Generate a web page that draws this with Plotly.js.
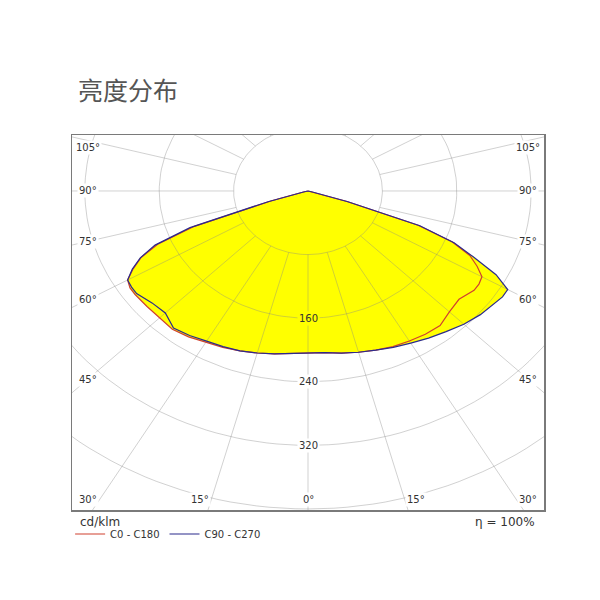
<!DOCTYPE html>
<html>
<head>
<meta charset="utf-8">
<script src="https://cdn.plot.ly/plotly-3.0.1.min.js"></script>
<style>html,body{margin:0;padding:0;background:#fff}</style>
</head>
<body>
<div id="chart" style="width:600px;height:600px"></div>
<script>
// Luminous intensity distribution (cd/klm) against gamma angle.
// Negative gamma = C180 / C270 half-plane, positive gamma = C0 / C90 half-plane.
const gamma = [-90, -85, -80, -75, -72.5, -70, -67.5, -65, -62.5, -60, -57.5, -55, -50, -45, -40, -35, -30, -25, -20, -15, -10, -5,
               0, 5, 10, 15, 20, 25, 30, 35, 40, 45, 50, 55, 57.5, 60, 62.5, 65, 67.5, 70, 72.5, 75, 80, 85, 90];

const intensityC0C180 = [0, 0, 0, 4, 42, 130, 175, 198, 212, 224, 227, 227, 226, 226, 227, 224, 220, 217, 214, 211, 208, 205,
                         203, 204, 207, 210, 213, 216, 218, 220, 221, 215, 212, 218, 218, 216, 205, 192, 168, 126, 44, 4, 0, 0, 0];

const intensityC90C270 = [0, 0, 0, 5, 45, 135, 178, 199, 213, 224, 225, 225, 219, 217, 225, 222, 218, 216, 214, 211, 208, 205,
                          203, 204, 207, 210, 213, 217, 221, 226, 231, 237, 242, 246, 248, 248, 228, 196, 170, 128, 45, 5, 0, 0, 0];

// Polar grid
const ringValues = [80, 160, 240, 320, 400];
const labelledRings = [160, 240, 320];
const spokeAngles = [-180, -165, -150, -135, -120, -105, -90, -75, -60, -45, -30, -15,
                     0, 15, 30, 45, 60, 75, 90, 105, 120, 135, 150, 165];
const sideLabelAngles = [45, 60, 75, 90, 105];
const bottomLabelAngles = [-30, -15, 0, 15, 30];

// Visible window of the diagram (cd/klm units, nadir pointing down)
const X_MAX = 253.8, Y_MIN = -401.3, Y_MAX = 70.4;
// label insets from the frame, in cd/klm units
const SIDE_INSET = 17.2, BOTTOM_INSET = 12.6, TOP_INSET = 15.1;

const rad = d => d * Math.PI / 180;
const toX = (g, r) => r * Math.sin(rad(g));
const toY = (g, r) => -r * Math.cos(rad(g));

function curve(gs, rs) {
  return { x: gs.map((g, i) => toX(g, rs[i])), y: gs.map((g, i) => toY(g, rs[i])) };
}

const GRID = 'rgba(135,135,135,0.38)';
const RED = '#d0402f';
const BLUE = '#2b2b8c';
const TEXT = '#333333';
const FONT = 'DejaVu Sans, Verdana, sans-serif';

const traces = [];

// yellow light body (union of both planes)
[intensityC0C180, intensityC90C270].forEach(vals => {
  const c = curve(gamma, vals);
  traces.push({ type: 'scatter', mode: 'lines', x: c.x, y: c.y, fill: 'toself', fillcolor: '#ffff00',
    line: { width: 0, color: '#ffff00' }, hoverinfo: 'skip', showlegend: false });
});

// rings
const ringX = [], ringY = [];
ringValues.forEach(R => {
  for (let a = 0; a <= 360; a += 2) { ringX.push(toX(a, R)); ringY.push(toY(a, R)); }
  ringX.push(null); ringY.push(null);
});
traces.push({ type: 'scatter', mode: 'lines', x: ringX, y: ringY,
  line: { color: GRID, width: 1 }, hoverinfo: 'skip', showlegend: false });

// spokes, starting at the first ring
const spokeX = [], spokeY = [];
const rIn = ringValues[0], rOut = 1000;
spokeAngles.forEach(g => {
  spokeX.push(toX(g, rIn), toX(g, rOut), null);
  spokeY.push(toY(g, rIn), toY(g, rOut), null);
});
traces.push({ type: 'scatter', mode: 'lines', x: spokeX, y: spokeY,
  line: { color: GRID, width: 1 }, hoverinfo: 'skip', showlegend: false });

// outlines
const c0 = curve(gamma, intensityC0C180);
traces.push({ type: 'scatter', mode: 'lines', name: 'C0 - C180', x: c0.x, y: c0.y,
  line: { color: RED, width: 1.2 }, hoverinfo: 'skip' });
const c90 = curve(gamma, intensityC90C270);
traces.push({ type: 'scatter', mode: 'lines', name: 'C90 - C270', x: c90.x, y: c90.y,
  line: { color: BLUE, width: 1.2 }, hoverinfo: 'skip' });

// annotations
const annotations = [];
const nadirValue = intensityC0C180[gamma.indexOf(0)];
labelledRings.forEach(R => {
  annotations.push({ x: 0, y: -R, xref: 'x', yref: 'y', text: String(R), showarrow: false,
    font: { family: FONT, size: 10, color: TEXT },
    bgcolor: R < nadirValue ? '#ffff00' : '#ffffff', borderpad: 1 });
});

// angle labels sit on their spokes, just inside the frame
sideLabelAngles.forEach(g => {
  const xAbs = X_MAX - SIDE_INSET;
  const t = xAbs / Math.sin(rad(g));
  const yv = Math.min(-t * Math.cos(rad(g)), Y_MAX - TOP_INSET);
  [-1, 1].forEach(side => {
    annotations.push({ x: side * xAbs, xref: 'x', y: yv, yref: 'y', xanchor: 'center', yanchor: 'middle',
      text: g + '°', showarrow: false, font: { family: FONT, size: 10, color: TEXT }, bgcolor: '#ffffff', borderpad: 1 });
  });
});
bottomLabelAngles.forEach(g => {
  const yv = Y_MIN + BOTTOM_INSET;
  const t = yv / -Math.cos(rad(g));
  const xv = t * Math.sin(rad(g));
  annotations.push({ x: xv, xref: 'x', y: yv, yref: 'y',
    xanchor: g < 0 ? 'right' : (g > 0 ? 'left' : 'center'), yanchor: 'middle',
    text: Math.abs(g) + '°', showarrow: false, font: { family: FONT, size: 10, color: TEXT }, bgcolor: '#ffffff', borderpad: 1 });
});

annotations.push({ x: 0.0127, xref: 'paper', y: -0.032, yref: 'paper', xanchor: 'left', yanchor: 'middle',
  text: 'cd/klm', showarrow: false, font: { family: FONT, size: 12, color: TEXT } });
annotations.push({ x: 0.985, xref: 'paper', y: -0.032, yref: 'paper', xanchor: 'right', yanchor: 'middle',
  text: 'η = 100%', showarrow: false, font: { family: FONT, size: 12, color: TEXT } });

const axisCommon = { showgrid: false, zeroline: false, showticklabels: false, ticks: '',
  showline: true, mirror: true, linecolor: '#7a7a7a', linewidth: 1.5, fixedrange: true };

const layout = {
  width: 600, height: 600,
  margin: { l: 72, r: 56, t: 135, b: 90 },
  paper_bgcolor: '#ffffff', plot_bgcolor: '#ffffff',
  title: { text: '亮度分布', font: { family: 'Noto Sans CJK SC', size: 25, color: '#555555' },
    x: 78 / 600, xanchor: 'left', xref: 'container', y: 1 - 91 / 600, yanchor: 'middle', yref: 'container' },
  xaxis: Object.assign({ range: [-X_MAX, X_MAX] }, axisCommon),
  yaxis: Object.assign({ range: [Y_MIN, Y_MAX] }, axisCommon),
  showlegend: true,
  legend: { orientation: 'h', x: -0.004, xanchor: 'left', y: -0.064, yanchor: 'middle',
    font: { family: FONT, size: 10, color: TEXT }, bgcolor: 'rgba(0,0,0,0)', tracegroupgap: 0 },
  annotations: annotations
};

Plotly.newPlot('chart', traces, layout, { displayModeBar: false, staticPlot: true });
</script>
</body>
</html>
